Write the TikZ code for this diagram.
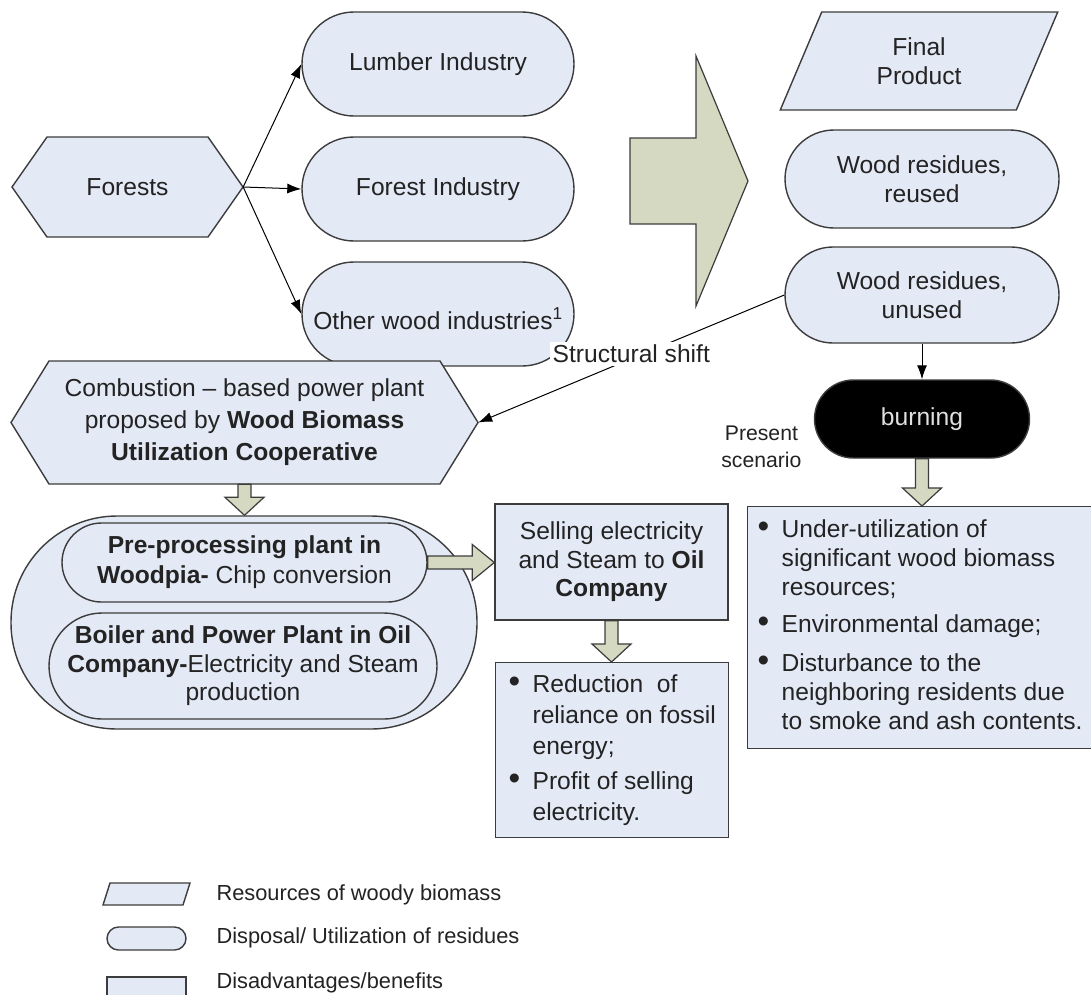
\documentclass[tikz,border=0pt]{standalone}
\usepackage{fontspec}
\setmainfont{Liberation Sans}
\usetikzlibrary{shapes.geometric,calc,positioning,arrows.meta}

\definecolor{boxfill}{RGB}{228,233,246}
\definecolor{arrowfill}{RGB}{214,217,193}
\definecolor{edgegray}{RGB}{60,60,60}
\definecolor{inkgray}{RGB}{35,35,35}

% block arrows between two named nodes (drawn in px units)
\newcommand{\fatdown}[2]{%
  \filldraw[fatarrow] ($(#1.south)+(-6.5,0)$) -- ($(#1.south |- #2.north)+(-6.5,-18)$)
    -- ($(#1.south |- #2.north)+(-19.5,-18)$) -- (#1.south |- #2.north)
    -- ($(#1.south |- #2.north)+(19.5,-18)$) -- ($(#1.south |- #2.north)+(6.5,-18)$)
    -- ($(#1.south)+(6.5,0)$) -- cycle;}
\newcommand{\fatright}[2]{%
  \filldraw[fatarrow] ($(#1.east)+(0,-6.5)$) -- ($(#2.west |- #1.east)+(-22,-6.5)$)
    -- ($(#2.west |- #1.east)+(-22,-18)$) -- (#2.west |- #1.east)
    -- ($(#2.west |- #1.east)+(-22,18)$) -- ($(#2.west |- #1.east)+(-22,6.5)$)
    -- ($(#1.east)+(0,6.5)$) -- cycle;}
\newcommand{\bigdot}{\scalebox{1.35}{\textbullet}}

\begin{document}
\begin{tikzpicture}[
        x=1pt, y=-1pt,
        >={Latex[length=14pt,width=10pt]},
        font=\fontsize{24.6}{29}\selectfont,
        text=inkgray,
        pill/.style={rectangle, rounded corners=#1, draw=edgegray, fill=boxfill, line width=1.4pt, align=center, inner sep=0pt},
        boxnode/.style={rectangle, draw=edgegray, fill=boxfill, line width=1.4pt, align=center},
        slanted/.style={trapezium, trapezium stretches=true, draw=edgegray, fill=boxfill, line width=1.4pt, align=center, inner sep=0pt},
        hexline/.style={draw=edgegray, fill=boxfill, line width=1.4pt, line join=miter},
        fatarrow/.style={draw=edgegray, fill=arrowfill, line width=1.2pt, line join=miter},
        link/.style={->, draw=black, line width=1pt},
        legendtext/.style={anchor=west, font=\fontsize{21.8}{26}\selectfont},
        ]
        % Page
        \clip (0,0) rectangle (1091,994);
        \fill[white] (0,0) rectangle (1091,994);

        % Forests and the wood industries
        \filldraw[hexline] (12,187) -- (47,137) -- (208,137) -- (243,187) -- (208,237) -- (47,237) -- cycle;
        \node[minimum width=231, minimum height=100] (forests) at (127.5,187) {Forests};
        \node[pill=52, minimum width=272, minimum height=104] (lumber) at (438,64) {Lumber Industry};
        \node[pill=52, minimum width=272, minimum height=104] (forestind) at (438,189) {Forest Industry};
        \node[pill=52, minimum width=272, minimum height=104, text height=35pt, text depth=5pt] (otherwood) at (438,314) {Other wood industries\textsuperscript{1}};
        \draw[link] (forests.east) -- (lumber.west);
        \draw[link] (forests.east) -- (forestind.west);
        \draw[link] (forests.east) -- (otherwood.west);

        % Big arrow
        \filldraw[fatarrow] (630,138) -- (696,138) -- (696,56) -- (748,181) -- (696,306) -- (696,224) -- (630,224) -- cycle;

        % Products and residues
        \node[slanted, trapezium left angle=69, trapezium right angle=111, minimum width=278, minimum height=98] (final) at (919,61) {Final\\Product};
        \node[pill=49, minimum width=274, minimum height=98] (reused) at (922,179) {Wood residues,\\reused};
        \node[pill=48, minimum width=274, minimum height=96] (unused) at (922,295) {Wood residues,\\unused};

        % Present scenario
        \node[pill=39, fill=black, text=white!88!black, minimum width=215, minimum height=78] (burning) at (922,419) {burning};
        \node[anchor=east, align=center, font=\fontsize{21.2}{27}\selectfont] (present) at (805,447) {Present\\scenario};
        \draw[link] (unused.south) -- (burning.north);
        \node[boxnode, anchor=north west, minimum width=338, minimum height=242, inner xsep=10pt] (harms) at (747,506) {%
          \begin{tabular}{@{}p{24pt}@{}l@{}}
            \bigdot & Under-utilization of\\
                    & significant wood biomass\\
                    & resources;\\[8pt]
            \bigdot & Environmental damage;\\[10pt]
            \bigdot & Disturbance to the\\
                    & neighboring residents due\\
                    & to smoke and ash contents.
          \end{tabular}};
        \fatdown{burning}{harms}

        % Structural shift
        \filldraw[hexline] (11,422.5) -- (49,361) -- (440,361) -- (478,422.5) -- (440,484) -- (49,484) -- cycle;
        \node[minimum width=467, minimum height=123, align=center, font=\fontsize{24.6}{32}\selectfont] (comb) at (244.5,422.5)
          {Combustion -- based power plant\\proposed by \textbf{Wood Biomass}\\\textbf{Utilization Cooperative}};
        \draw[link] (unused.west) -- node[fill=white, inner sep=3pt, yshift=5pt] (shiftlabel) {Structural shift} (comb.east);

        % Plants
        \node[pill=106, minimum width=466, minimum height=213] (plants) at (244,622.5) {};
        \node[pill=39.5, minimum width=365, minimum height=79, font=\fontsize{24.6}{30}\selectfont] (preproc) at (244.5,562.5)
          {\textbf{Pre-processing plant in}\\\textbf{Woodpia-} Chip conversion};
        \node[pill=53, minimum width=388, minimum height=106, font=\fontsize{24.6}{28.5}\selectfont] (boiler) at (243,666)
          {\textbf{Boiler and Power Plant in Oil}\\\textbf{Company-}Electricity and Steam\\production};
        \fatdown{comb}{plants}

        % Selling and benefits
        \node[boxnode, minimum width=233, minimum height=116, font=\fontsize{24.6}{28.5}\selectfont] (selling) at (611.5,562)
          {Selling electricity\\and Steam to \textbf{Oil}\\\textbf{Company}};
        \node[boxnode, anchor=north west, minimum width=233, minimum height=175, inner xsep=10pt, font=\fontsize{24.6}{31}\selectfont] (benefits) at (495,662) {%
          \begin{tabular}{@{}p{24pt}@{}l@{}}
            \bigdot & Reduction\ \ of\\
                    & reliance on fossil\\
                    & energy;\\[4pt]
            \bigdot & Profit of selling\\
                    & electricity.
          \end{tabular}};
        \fatright{preproc}{selling}
        \fatdown{selling}{benefits}

        % Legend
        \filldraw[hexline] (103,905) -- (110,883) -- (190,883) -- (183,905) -- cycle;
        \node[legendtext] (legrestext) at (213,895) {Resources of woody biomass};
        \node[pill=11.5, minimum width=79, minimum height=23] (legpill) at (146.5,938.5) {};
        \node[legendtext] (legpilltext) at (213,938) {Disposal/ Utilization of residues};
        \node[boxnode, minimum width=79, minimum height=26] (legbox) at (146.5,990) {};
        \node[legendtext] (legboxtext) at (213,983) {Disadvantages/benefits};

    \end{tikzpicture}
\end{document}
